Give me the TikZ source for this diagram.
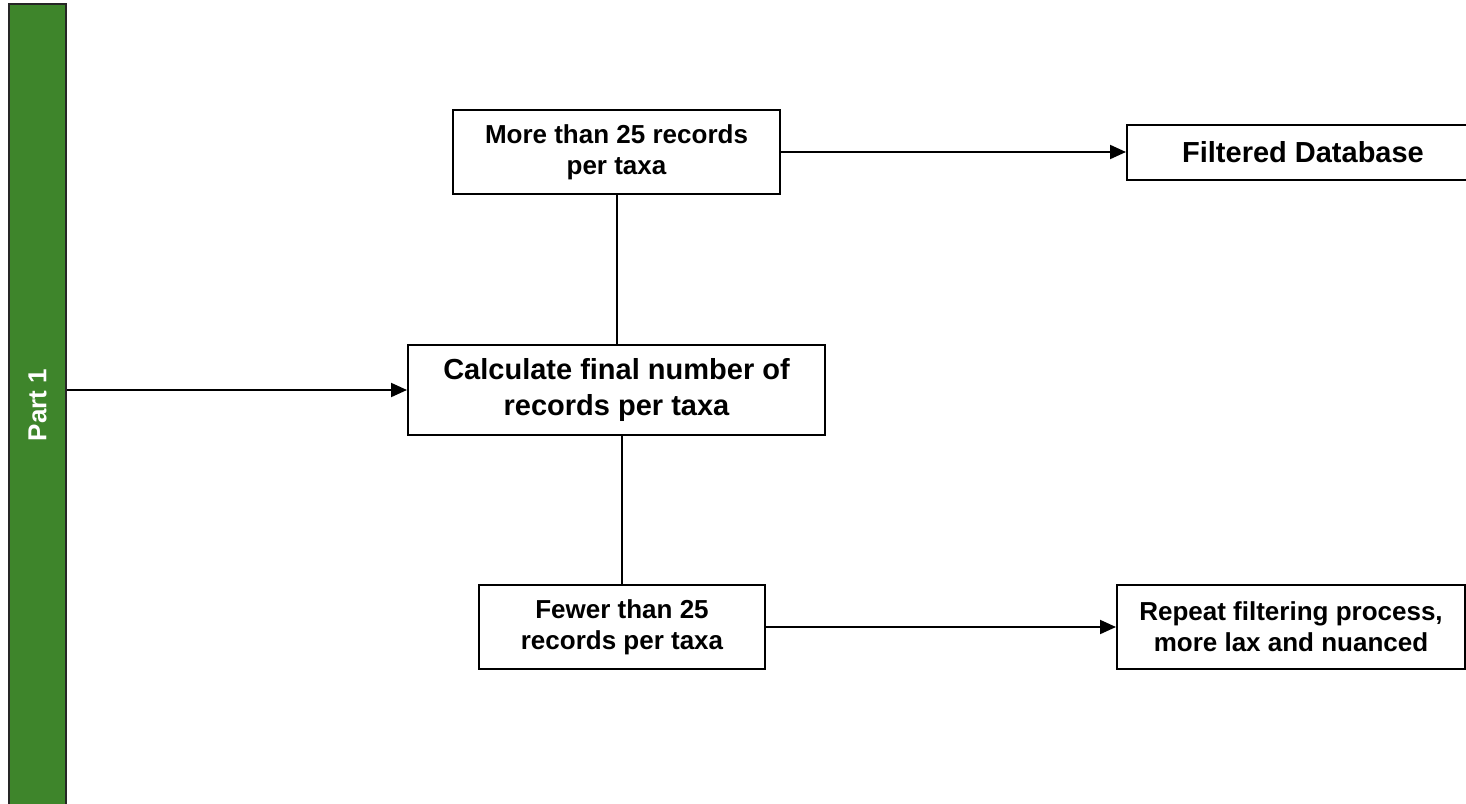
\documentclass[tikz,border=0pt]{standalone}
\usepackage{fontspec}
\setmainfont{Liberation Sans}
\usepackage{tikz}
\usetikzlibrary{arrows.meta}
\usetikzlibrary{positioning}
\definecolor{barGreen}{RGB}{62,133,43}

\begin{document}
\begin{tikzpicture}[x=1pt, y=-1pt, line width=2pt,
			>={Triangle[length=16pt,width=14pt]},
			box/.style={rectangle,draw,align=center,inner sep=0pt,font=\fontsize{26}{31}\selectfont\bfseries},
			bigbox/.style={box,font=\fontsize{29}{36}\selectfont\bfseries},
			bar/.style={rectangle,draw=black!85,fill=barGreen,text=white,inner sep=0pt,font=\fontsize{26}{31}\selectfont\bfseries}]
			
			\useasboundingbox (0,0) rectangle (1466,803);
			
			\node[bar, rotate=90, minimum width=802pt, minimum height=57pt] (part) at (37.5,405) {Part 1};
			\node[bigbox, minimum width=417pt, minimum height=90pt] (calc) at (616.5,390) {Calculate final number of\\records per taxa};
			\node[box, minimum width=327pt, minimum height=84pt] (more) [above=149pt of calc] {More than 25 records\\per taxa};
			\node[box, minimum width=286pt, minimum height=84pt] (fewer) [below=148pt of calc, xshift=5.5pt] {Fewer than 25\\records per taxa};
			\node[bigbox, minimum width=352pt, minimum height=55pt] (filt) [right=345pt of more] {Filtered Database};
			\node[box, minimum width=348pt, minimum height=84pt] (rep) [right=350pt of fewer] {Repeat filtering process,\\more lax and nuanced};
			
			
			\draw[->] (part.south |- calc.west) -- (calc.west);
			\draw (more) -- (calc);
			\draw (calc.south -| fewer.north) -- (fewer.north);
			\draw[->] (more) -- (filt);
			\draw[->] (fewer) -- (rep);
			\end{tikzpicture}
\end{document}
